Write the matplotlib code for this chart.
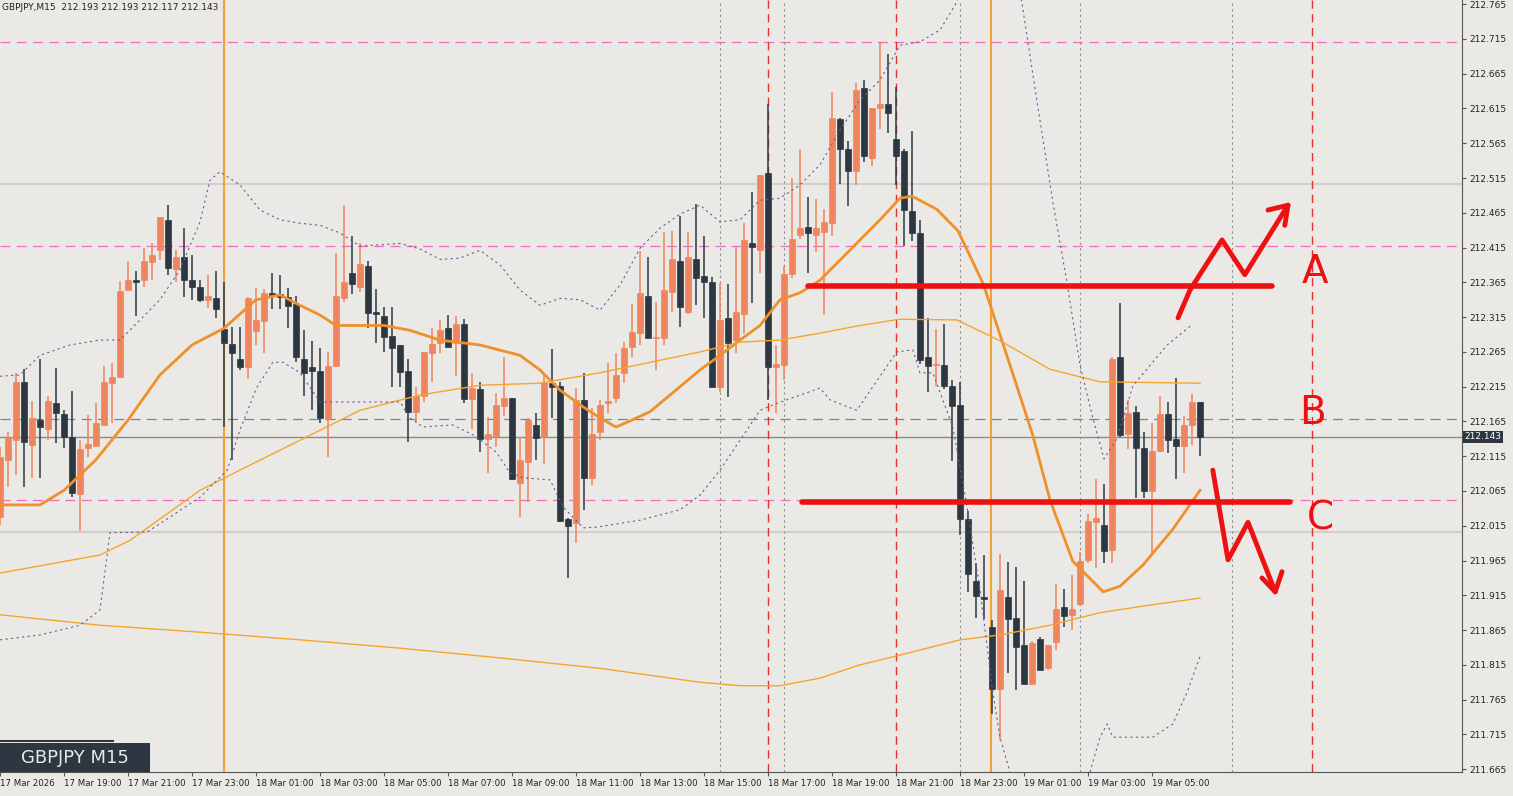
import numpy as np
import matplotlib
matplotlib.use("Agg")
import matplotlib.pyplot as plt
from matplotlib.patches import Rectangle

# ------------------------------------------------------------------
# GBPJPY M15 candles, 17 Mar 17:00 -> 19 Mar 06:30
# ------------------------------------------------------------------
opens = [212.028, 212.110, 212.139, 212.222, 212.131, 212.167, 212.154, 212.192, 212.176, 212.143,
         212.060, 212.127, 212.130, 212.160, 212.221, 212.229, 212.354, 212.369, 212.368, 212.394,
         212.411, 212.454, 212.384, 212.402, 212.369, 212.358, 212.339, 212.343, 212.298, 212.277,
         212.255, 212.243, 212.295, 212.310, 212.349, 212.348, 212.344, 212.334, 212.255, 212.243,
         212.238, 212.169, 212.245, 212.342, 212.378, 212.358, 212.389, 212.323, 212.317, 212.288,
         212.275, 212.238, 212.179, 212.202, 212.264, 212.278, 212.300, 212.278, 212.305, 212.197,
         212.212, 212.140, 212.144, 212.187, 212.199, 212.077, 212.106, 212.160, 212.143, 212.221,
         212.216, 212.025, 212.019, 212.196, 212.084, 212.150, 212.192, 212.199, 212.235, 212.272,
         212.292, 212.345, 212.285, 212.285, 212.351, 212.395, 212.323, 212.398, 212.374, 212.365,
         212.215, 212.314, 212.282, 212.320, 212.421, 212.411, 212.522, 212.243, 212.246, 212.377,
         212.433, 212.445, 212.433, 212.437, 212.450, 212.600, 212.557, 212.525, 212.644, 212.544,
         212.616, 212.621, 212.571, 212.554, 212.467, 212.436, 212.258, 212.246, 212.246, 212.216,
         212.189, 212.025, 211.936, 211.912, 211.869, 211.780, 211.912, 211.882, 211.843, 211.788,
         211.852, 211.811, 211.848, 211.898, 211.887, 211.902, 211.966, 212.020, 212.016, 211.980,
         212.258, 212.147, 212.179, 212.127, 212.065, 212.123, 212.176, 212.140, 212.130, 212.160,
         212.193]
closes = [212.114, 212.143, 212.222, 212.136, 212.170, 212.157, 212.195, 212.177, 212.143, 212.062,
          212.125, 212.133, 212.163, 212.222, 212.229, 212.352, 212.369, 212.365, 212.395, 212.405,
          212.459, 212.385, 212.401, 212.369, 212.358, 212.339, 212.346, 212.327, 212.278, 212.264,
          212.243, 212.342, 212.311, 212.349, 212.345, 212.344, 212.331, 212.257, 212.234, 212.238,
          212.170, 212.245, 212.346, 212.366, 212.363, 212.392, 212.321, 212.320, 212.287, 212.271,
          212.236, 212.179, 212.202, 212.265, 212.277, 212.297, 212.272, 212.305, 212.197, 212.213,
          212.140, 212.147, 212.189, 212.199, 212.082, 212.109, 212.167, 212.141, 212.222, 212.215,
          212.022, 212.015, 212.196, 212.084, 212.147, 212.189, 212.195, 212.232, 212.271, 212.294,
          212.349, 212.285, 212.287, 212.354, 212.398, 212.330, 212.402, 212.371, 212.365, 212.215,
          212.311, 212.278, 212.323, 212.426, 212.416, 212.519, 212.243, 212.248, 212.377, 212.428,
          212.443, 212.436, 212.443, 212.452, 212.601, 212.557, 212.525, 212.642, 212.547, 212.616,
          212.621, 212.608, 212.547, 212.469, 212.436, 212.254, 212.245, 212.248, 212.216, 212.187,
          212.025, 211.946, 211.914, 211.910, 211.780, 211.922, 211.881, 211.841, 211.788, 211.847,
          211.807, 211.843, 211.895, 211.885, 211.896, 211.965, 212.022, 212.026, 211.979, 212.255,
          212.145, 212.177, 212.127, 212.065, 212.123, 212.176, 212.139, 212.130, 212.160, 212.193,
          212.143]
highs = [212.128, 212.150, 212.235, 212.241, 212.195, 212.255, 212.201, 212.242, 212.182, 212.209,
         212.139, 212.174, 212.192, 212.245, 212.249, 212.367, 212.395, 212.382, 212.414, 212.421,
         212.459, 212.476, 212.411, 212.443, 212.405, 212.369, 212.375, 212.382, 212.365, 212.301,
         212.301, 212.344, 212.357, 212.355, 212.379, 212.376, 212.357, 212.345, 212.297, 212.281,
         212.271, 212.265, 212.407, 212.476, 212.431, 212.421, 212.395, 212.355, 212.330, 212.330,
         212.275, 212.255, 212.215, 212.265, 212.300, 212.311, 212.318, 212.316, 212.313, 212.235,
         212.222, 212.172, 212.206, 212.258, 212.199, 212.143, 212.170, 212.177, 212.235, 212.269,
         212.222, 212.026, 212.213, 212.235, 212.185, 212.196, 212.249, 212.264, 212.279, 212.334,
         212.410, 212.401, 212.337, 212.437, 212.439, 212.460, 212.437, 212.478, 212.431, 212.372,
         212.364, 212.362, 212.416, 212.450, 212.495, 212.519, 212.621, 212.275, 212.388, 212.515,
         212.557, 212.488, 212.485, 212.470, 212.639, 212.601, 212.568, 212.652, 212.656, 212.616,
         212.711, 212.693, 212.646, 212.557, 212.583, 212.455, 212.314, 212.298, 212.305, 212.225,
         212.222, 212.036, 211.962, 211.973, 211.879, 211.975, 211.963, 211.956, 211.936, 211.850,
         211.855, 211.844, 211.931, 211.924, 211.944, 211.977, 212.032, 212.082, 212.075, 212.257,
         212.335, 212.196, 212.187, 212.150, 212.163, 212.202, 212.193, 212.228, 212.173, 212.205,
         212.193]
lows = [212.016, 212.071, 212.088, 212.071, 212.084, 212.084, 212.139, 212.134, 212.127, 212.056,
        212.007, 212.114, 212.130, 212.160, 212.163, 212.229, 212.354, 212.316, 212.358, 212.369,
        212.397, 212.375, 212.365, 212.344, 212.339, 212.337, 212.328, 212.314, 212.157, 212.110,
        212.239, 212.226, 212.275, 212.264, 212.327, 212.326, 212.300, 212.250, 212.202, 212.182,
        212.163, 212.114, 212.243, 212.337, 212.348, 212.351, 212.300, 212.278, 212.265, 212.215,
        212.215, 212.136, 212.164, 212.193, 212.222, 212.264, 212.271, 212.231, 212.192, 212.154,
        212.121, 212.091, 212.128, 212.173, 212.081, 212.028, 212.049, 212.109, 212.104, 212.170,
        212.020, 211.940, 211.990, 212.038, 212.074, 212.139, 212.177, 212.192, 212.221, 212.257,
        212.275, 212.285, 212.239, 212.275, 212.323, 212.301, 212.320, 212.333, 212.314, 212.215,
        212.207, 212.200, 212.264, 212.291, 212.336, 212.379, 212.196, 212.177, 212.225, 212.371,
        212.427, 212.379, 212.408, 212.318, 212.431, 212.506, 212.475, 212.505, 212.538, 212.532,
        212.585, 212.580, 212.505, 212.417, 212.425, 212.248, 212.207, 212.216, 212.212, 212.108,
        212.002, 211.920, 211.882, 211.881, 211.744, 211.707, 211.803, 211.779, 211.787, 211.788,
        211.807, 211.807, 211.837, 211.869, 211.865, 211.899, 211.962, 211.954, 211.962, 211.962,
        212.143, 212.125, 212.055, 212.055, 211.976, 212.121, 212.120, 212.082, 212.091, 212.131,
        212.115]

# indicator lines, sampled at bar positions
ma_fast_x = [0, 5, 8, 12, 16, 20, 24, 28, 32, 35, 37.5, 40, 42, 48, 51.25, 55, 60, 65, 67.5, 70,
             72.5, 75, 77, 79, 81.25, 83.75, 87.5, 90, 92.5, 95, 97.5, 100, 102.5, 105, 107.5, 110,
             112.5, 114, 117.1, 119.75, 122.9, 126.25, 129.1, 131.25, 134.1, 137.9, 140, 142.9,
             146.6, 150]
ma_fast_y = [212.045, 212.045, 212.066, 212.110, 212.167, 212.232, 212.275, 212.299, 212.340, 212.347,
             212.332, 212.318, 212.303, 212.303, 212.296, 212.282, 212.275, 212.260, 212.239, 212.210,
             212.189, 212.170, 212.157, 212.167, 212.179, 212.203, 212.239, 212.260, 212.282, 212.303,
             212.340, 212.350, 212.368, 212.397, 212.426, 212.455, 212.486, 212.489, 212.470, 212.439,
             212.363, 212.246, 212.145, 212.052, 211.964, 211.920, 211.928, 211.959, 212.010, 212.066]
ma_mid_x = [0, 12.5, 16.25, 25, 30, 37.5, 45, 52.5, 60, 67.5, 75, 81.25, 87.5, 92.5, 97.5, 102.5,
            107.5, 112.5, 119.6, 125, 131.25, 137.5, 150]
ma_mid_y = [211.947, 211.973, 211.994, 212.066, 212.095, 212.138, 212.181, 212.203, 212.217, 212.220,
            212.235, 212.250, 212.265, 212.279, 212.282, 212.292, 212.303, 212.312, 212.311, 212.281,
            212.240, 212.222, 212.220]
ma_slow_x = [0, 12.5, 25, 37.5, 50, 62.5, 75, 87.5, 92.5, 97.5, 102.5, 107.5, 112.5, 120, 125,
             131.25, 137.5, 143.75, 150]
ma_slow_y = [211.887, 211.872, 211.862, 211.851, 211.839, 211.825, 211.810, 211.790, 211.785, 211.785,
             211.796, 211.815, 211.829, 211.851, 211.858, 211.872, 211.890, 211.901, 211.911]
bb_up_x = [0, 2.5, 5, 8.75, 12.5, 15, 17.5, 20, 22.5, 25, 26.25, 27.5, 30, 32.5, 35, 37.5, 40, 42.5,
           45, 47.5, 50, 52.5, 55, 57.5, 60, 62.5, 65, 67.5, 70, 72.5, 75, 77.5, 80, 82.5, 85, 87.5,
           90, 92.5, 95, 97.5, 100, 102.5, 105, 107.5, 110, 112.5, 115, 117.5, 119.4, 121.9, 125,
           127.5, 129.6, 131.6, 133.4, 135, 136.6, 138, 139.6, 141.6, 145.9, 149.1]
bb_up_y = [212.230, 212.232, 212.260, 212.275, 212.282, 212.282, 212.311, 212.340, 212.383, 212.452,
           212.512, 212.524, 212.505, 212.469, 212.455, 212.450, 212.447, 212.436, 212.417, 212.419,
           212.421, 212.413, 212.398, 212.400, 212.411, 212.390, 212.354, 212.332, 212.342, 212.340,
           212.325, 212.361, 212.414, 212.443, 212.463, 212.476, 212.452, 212.455, 212.483, 212.486,
           212.505, 212.534, 212.584, 212.627, 212.656, 212.706, 212.711, 212.728, 212.764, 212.829,
           212.857, 212.785, 212.627, 212.481, 212.363, 212.246, 212.170, 212.111, 212.140, 212.216,
           212.275, 212.305]
bb_lo_x = [0, 5, 10, 12.5, 13.75, 18.4, 25, 28.4, 30, 32.1, 34.1, 35.4, 37.5, 40, 44.6, 50, 51.25,
           52.9, 56.6, 59.6, 62.1, 63.75, 65.4, 68.75, 70.4, 72.9, 74.6, 80, 85, 87.5, 90, 92.5, 95,
           97.1, 102.5, 103.75, 107.1, 109.1, 112.1, 114.1, 115, 116.6, 119.1, 120.9, 122.5, 124.1,
           125, 126.9, 131.25, 135.6, 137.5, 138.4, 139.1, 144.1, 146.6, 148.4, 150]
bb_lo_y = [211.851, 211.858, 211.872, 211.894, 212.005, 212.006, 212.056, 212.095, 212.153, 212.214,
           212.250, 212.250, 212.235, 212.193, 212.193, 212.193, 212.170, 212.157, 212.160, 212.143,
           212.120, 212.091, 212.084, 212.081, 212.042, 212.012, 212.013, 212.023, 212.038, 212.059,
           212.095, 212.138, 212.181, 212.191, 212.213, 212.196, 212.181, 212.215, 212.265, 212.268,
           212.235, 212.235, 212.157, 212.041, 211.923, 211.776, 211.711, 211.635, 211.577, 211.635,
           211.711, 211.730, 211.711, 211.711, 211.730, 211.776, 211.827]

x_labels = ["17 Mar 2026", "17 Mar 19:00", "17 Mar 21:00", "17 Mar 23:00", "18 Mar 01:00",
            "18 Mar 03:00", "18 Mar 05:00", "18 Mar 07:00", "18 Mar 09:00", "18 Mar 11:00",
            "18 Mar 13:00", "18 Mar 15:00", "18 Mar 17:00", "18 Mar 19:00", "18 Mar 21:00",
            "18 Mar 23:00", "19 Mar 01:00", "19 Mar 03:00", "19 Mar 05:00"]

# horizontal / vertical chart objects
pink_levels = [212.711, 212.417, 212.052]
grey_levels = [212.506, 212.006]
blue_level = 212.168
last_price = 212.143
orange_vlines = [28, 123.9]
red_vlines = [96, 112, 164]
grey_vlines = [90, 98, 120, 135, 154]

# hand-drawn scenario marks
level_a = (101, 159, 212.360)
level_c = (100.25, 161.25, 212.049)
up_path_x = [147.25, 148.75, 152.75, 155.6, 161]
up_path_y = [212.314, 212.354, 212.426, 212.376, 212.476]
up_head_x = [158.5, 161, 160.6]
up_head_y = [212.469, 212.476, 212.447]
down_path_x = [151.6, 153.5, 156, 159.4]
down_path_y = [212.095, 211.966, 212.020, 211.920]
down_head_x = [157.75, 159.4, 160.25]
down_head_y = [211.940, 211.920, 211.949]

BG = "#ebe9e5"
BULL = "#f0845c"
BEAR = "#2d3741"
RED = "#ee1111"

fig = plt.figure(figsize=(15.13, 7.96), dpi=100, facecolor=BG)
ax = fig.add_axes([0, 0.0302, 0.9663, 0.9698], facecolor=BG)
ax.set_xlim(0, 182.75)
ax.set_ylim(211.661, 212.771)

for p in pink_levels:
    ax.axhline(p, color="#f36bc0", lw=0.9, ls=(0, (8, 5)), zorder=1)
for p in grey_levels:
    ax.axhline(p, color="#d0cfcc", lw=1.5, zorder=1)
ax.axhline(blue_level, color="#6f87a3", lw=0.9, ls=(0, (8, 5)), zorder=1)
ax.axhline(last_price, color="#8a8a8a", lw=1.0, zorder=1)
for v in orange_vlines:
    ax.axvline(v, color="#f5a030", lw=1.5, zorder=1)
for v in red_vlines:
    ax.axvline(v, color="#e8302a", lw=1.0, ls=(0, (6, 4)), zorder=1)
for v in grey_vlines:
    ax.axvline(v, color="#8c8c8c", lw=0.8, ls=(0, (2, 3)), zorder=1)

# candles
for i, (o, c, h, l) in enumerate(zip(opens, closes, highs, lows)):
    col = BULL if c >= o else BEAR
    ax.vlines(i, l, h, color=col, lw=1.1, zorder=3)
    bottom = min(o, c)
    height = max(abs(c - o), 0.002)
    ax.add_patch(Rectangle((i - 0.32, bottom), 0.64, height, facecolor=col, edgecolor=col, lw=0.5, zorder=4))

ax.plot(ma_fast_x, ma_fast_y, color="#f0902a", lw=2.0, zorder=5)
ax.plot(ma_mid_x, ma_mid_y, color="#f5a52c", lw=1.0, zorder=5)
ax.plot(ma_slow_x, ma_slow_y, color="#f5a52c", lw=1.0, zorder=5)
ax.plot(bb_up_x, bb_up_y, color="#6b5b9a", lw=0.8, ls=(0, (2, 3)), zorder=5)
ax.plot(bb_lo_x, bb_lo_y, color="#6b5b9a", lw=0.8, ls=(0, (2, 3)), zorder=5)

# scenario drawing
ax.plot(level_a[:2], [level_a[2]] * 2, color=RED, lw=4, solid_capstyle="round", zorder=6)
ax.plot(level_c[:2], [level_c[2]] * 2, color=RED, lw=4, solid_capstyle="round", zorder=6)
for xs, ys in [(up_path_x, up_path_y), (up_head_x, up_head_y),
               (down_path_x, down_path_y), (down_head_x, down_head_y)]:
    ax.plot(xs, ys, color=RED, lw=3.5, solid_capstyle="round", solid_joinstyle="round", zorder=6)
for letter, lx, ly in [("A", 164.4, 212.380), ("B", 164.1, 212.177), ("C", 165.0, 212.026)]:
    ax.text(lx, ly, letter, color=RED, fontsize=28, ha="center", va="center", zorder=6)

# axes
ax.set_xticks(range(0, 8 * len(x_labels), 8))
ax.set_xticklabels(x_labels, fontsize=6.2, ha="left", color="#222222")
ax.tick_params(axis="x", length=3, pad=2, color="#555555")
yt = np.round(np.arange(211.665, 212.77, 0.05), 3)
ax.yaxis.tick_right()
ax.set_yticks(yt)
ax.set_yticklabels([f"{v:.3f}" for v in yt], fontsize=6.5, color="#222222")
ax.tick_params(axis="y", length=3, pad=2, color="#555555")
for s in ["top", "left"]:
    ax.spines[s].set_visible(False)
ax.spines["right"].set_color("#555555")
ax.spines["bottom"].set_color("#555555")

ax.text(182.75 + 0.3, last_price, f"{last_price:.3f}", fontsize=6.5, color="white", va="center", ha="left",
        bbox=dict(boxstyle="square,pad=0.15", fc="#2d3741", ec="none"), clip_on=False, zorder=10)

ax.text(0.3, 212.766, "GBPJPY,M15  212.193 212.193 212.117 212.143", fontsize=6.5, color="#222222",
        va="top", ha="left")

# symbol badge, bottom-left
ax.add_patch(Rectangle((0, 0), 150 / 1462, 29 / 772, transform=ax.transAxes,
                       facecolor="#2d3741", edgecolor="none", zorder=10))
ax.plot([0, 113 / 1462], [31 / 772, 31 / 772], transform=ax.transAxes, color="#2d3741", lw=1.5, zorder=10)
ax.text(75 / 1462, 14 / 772, "GBPJPY M15", transform=ax.transAxes, fontsize=13, color="#e8e8e8",
        va="center", ha="center", zorder=11)

fig.savefig("out.png", dpi=100, facecolor=BG)
